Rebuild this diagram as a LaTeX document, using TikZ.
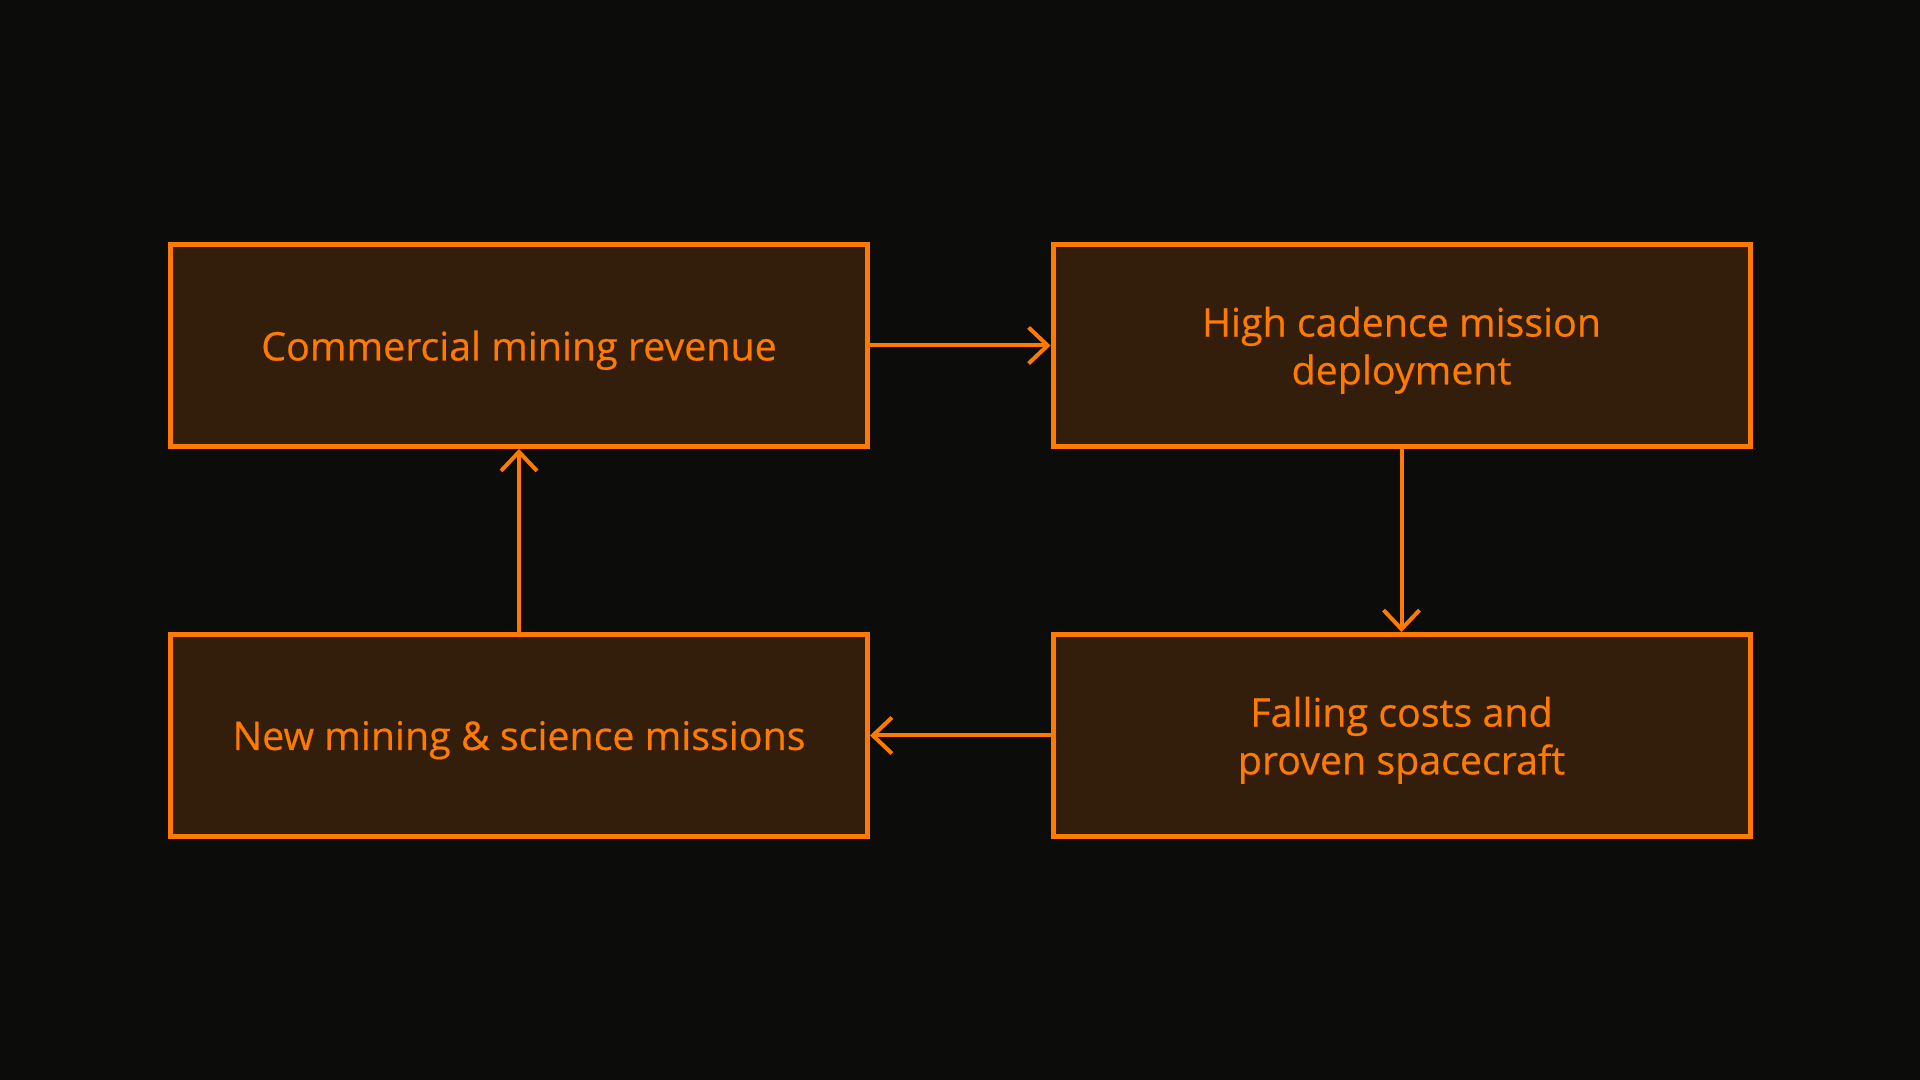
\documentclass[tikz,border=0pt]{standalone}
\usepackage{fontspec}
\setmainfont{Open Sans}[UprightFeatures={FakeBold=0.5}]
\usetikzlibrary{arrows.meta}
\definecolor{bgdark}{RGB}{12,12,11}
\definecolor{boxfill}{RGB}{51,30,12}
\definecolor{orng}{RGB}{255,122,0}
\tikzset{
  card/.style={draw=orng, fill=boxfill, line width=0.05cm, minimum width=6.97cm,
    minimum height=2.02cm, align=center, text=orng, text depth=0pt,
    font=\fontsize{11.2}{13.6}\selectfont},
  flow/.style={draw=orng, line width=0.04cm, -{Straight Barb[length=0.19cm, width=0.36cm]}}
}
\begin{document}
\begin{tikzpicture}
  \fill[bgdark] (0,0) rectangle (19.2,10.8);
  \useasboundingbox (0,0) rectangle (19.2,10.8);

  \node[card] (B1) at (5.19,7.345) {Commercial mining revenue};
  \node[card] (B2) at (14.015,7.345) {High cadence mission\\deployment};
  \node[card] (B3) at (14.015,3.445) {Falling costs and\\proven spacecraft};
  \node[card] (B4) at (5.19,3.445) {New mining \& science missions};

  \draw[flow] (B1.east) -- (B2.west);
  \draw[flow] (B2.south) -- (B3.north);
  \draw[flow] (B3.west) -- (B4.east);
  \draw[flow] (B4.north) -- (B1.south);
\end{tikzpicture}
\end{document}
